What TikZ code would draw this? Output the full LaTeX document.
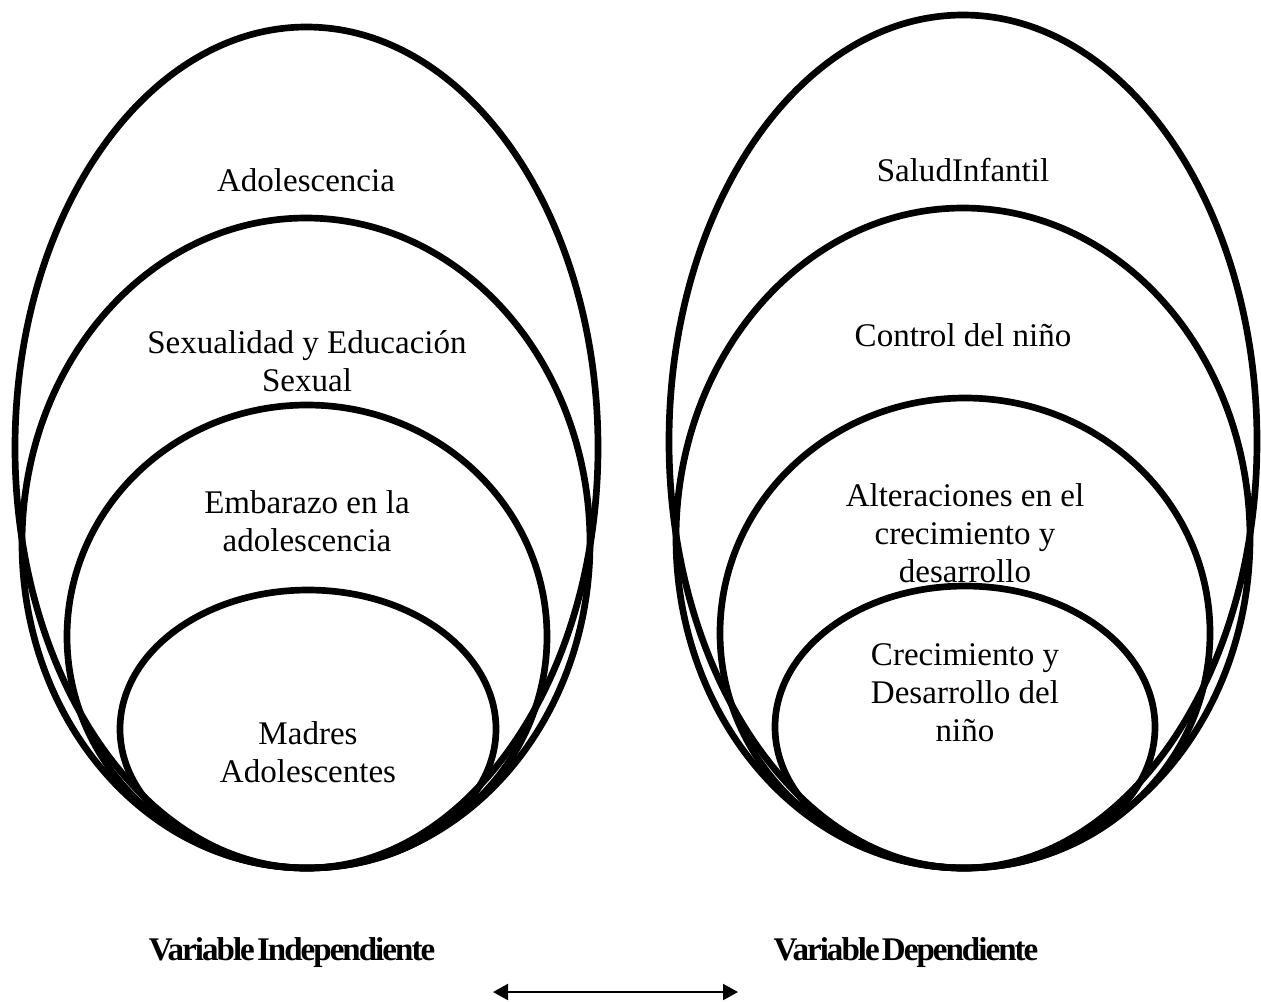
\documentclass[tikz,border=0pt]{standalone}
\usepackage{fontspec}
\setmainfont{Liberation Serif}
\newfontfamily\condfont[LetterSpace=-6, WordSpace=0.35]{Liberation Serif}
\usepackage{tikz}
\usetikzlibrary{shapes.geometric, arrows.meta, positioning}

\begin{document}
\begin{tikzpicture}[
    x=1cm, y=-1cm,
    ring/.style={ellipse, draw, line width=1.9pt, inner sep=0pt},
    lbl/.style={align=center, font=\fontsize{9.4}{10.8}\selectfont},
    varlbl/.style={font=\condfont\bfseries\fontsize{9.4}{10.8}\selectfont},
    arrow/.style={{Triangle[length=1.5mm, width=1.6mm]}-{Triangle[length=1.5mm, width=1.6mm]}, line width=0.6pt}
]
\useasboundingbox (0,0) rectangle (12.61,10.01);

% Independent variable (left side) - rings get smaller towards the bottom
\node[ring, minimum width=5.83cm, minimum height=8.41cm] (l1) at (3.065,4.475) {};
\node[ring, minimum width=5.68cm, minimum height=6.50cm] (l2) at (3.06,5.43) {};
\node[ring, minimum width=4.80cm, minimum height=4.63cm] (l3) at (3.07,6.365) {};
\node[ring, minimum width=3.76cm, minimum height=2.78cm] (l4) at (3.08,7.29) {};

% Dependent variable (right side)
\node[ring, minimum width=5.88cm, minimum height=8.53cm] (r1) at (9.63,4.415) {};
\node[ring, minimum width=5.74cm, minimum height=6.60cm] (r2) at (9.63,5.38) {};
\node[ring, minimum width=4.90cm, minimum height=4.70cm] (r3) at (9.65,6.33) {};
\node[ring, minimum width=3.80cm, minimum height=2.82cm] (r4) at (9.65,7.27) {};

% Labels
\node[lbl] (tl1) at (3.06,1.80) {Adolescencia};
\node[lbl] (tl2) at (3.07,3.61) {Sexualidad y Educación\\Sexual};
\node[lbl] (tl3) at (3.07,5.21) {Embarazo en la\\adolescencia};
\node[lbl] (tl4) at (3.08,7.52) {Madres\\Adolescentes};
\node[lbl] (tr1) at (9.63,1.70) {SaludInfantil};
\node[lbl] (tr2) at (9.63,3.35) {Control del niño};
\node[lbl] (tr3) at (9.65,5.33) {Alteraciones en el\\crecimiento y\\desarrollo};
\node[lbl] (tr4) at (9.65,6.93) {Crecimiento y\\Desarrollo del\\niño};

% Variable labels
\node[varlbl] (vi) at (2.92,9.53) {Variable Independiente};
\node[varlbl] (vd) at (9.06,9.53) {Variable Dependiente};

% Relation arrow
\coordinate (al) at (4.93,9.92);
\coordinate (ar) at (7.38,9.92);
\draw[arrow] (al) -- (ar);

\end{tikzpicture}
\end{document}
